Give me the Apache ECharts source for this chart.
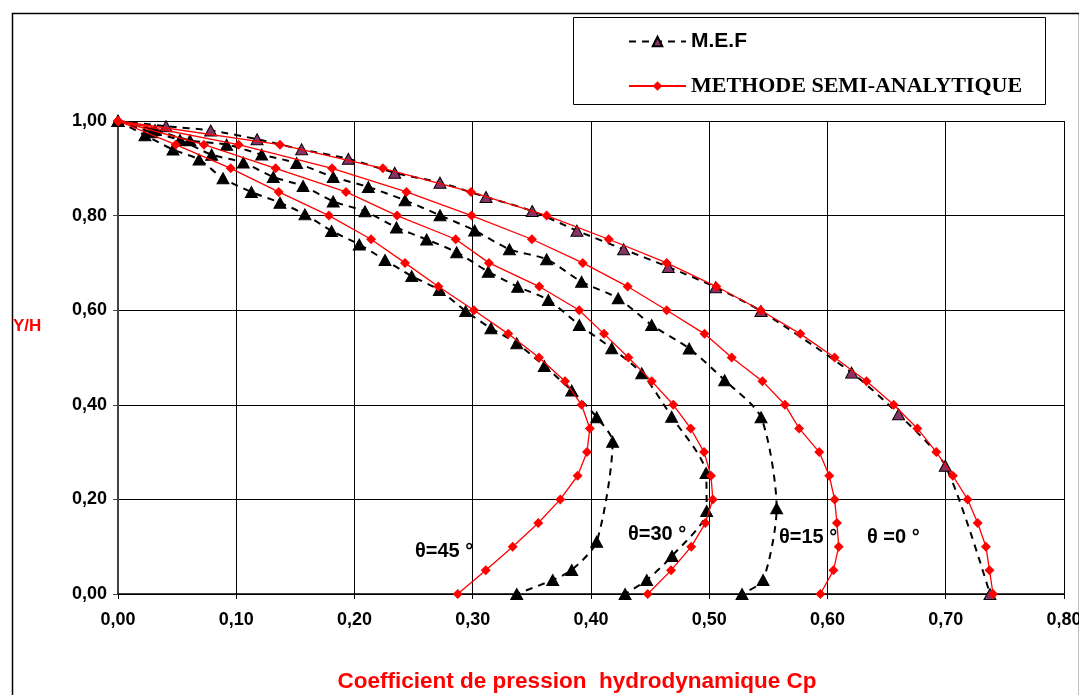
<!DOCTYPE html>
<html>
<head>
<meta charset="utf-8">
<script src="https://cdn.jsdelivr.net/npm/echarts@6.0.0/dist/echarts.min.js"></script>
<style>
html,body{margin:0;padding:0;background:#fff;}
#chart{width:1079px;height:695px;}
</style>
</head>
<body>
<div id="chart"></div>
<script>
// ---- Data ----
// Semi-analytic method: Y/H levels and Cp for each angle
const yLevels = [1.00,0.95,0.90,0.85,0.80,0.75,0.70,0.65,0.60,0.55,0.50,0.45,0.40,0.35,0.30,0.25,0.20,0.15,0.10,0.05,0.00];
const saTheta0  = [0,0.137,0.224,0.2985,0.3625,0.415,0.464,0.506,0.5435,0.577,0.606,0.633,0.656,0.676,0.692,0.706,0.7185,0.727,0.734,0.737,0.740];
const saTheta15 = [0,0.102,0.181,0.244,0.299,0.350,0.393,0.431,0.464,0.496,0.519,0.545,0.564,0.576,0.593,0.6015,0.606,0.608,0.6095,0.605,0.594];
const saTheta30 = [0,0.0727,0.1333,0.1928,0.236,0.2856,0.3137,0.3563,0.390,0.411,0.4316,0.4513,0.4696,0.4843,0.4956,0.5015,0.503,0.4967,0.4848,0.4677,0.448];
const saTheta45 = [0,0.0488,0.0953,0.1359,0.1784,0.214,0.2427,0.2709,0.301,0.330,0.356,0.378,0.392,0.399,0.3966,0.3887,0.374,0.3554,0.3338,0.311,0.2873];

// M.E.F (finite elements): Y/H and Cp pairs for each angle
const mefY0   = [1.000,0.989,0.980,0.9615,0.940,0.920,0.8905,0.8696,0.8393,0.8097,0.7681,0.7287,0.6913,0.6484,0.5983,0.468,0.380,0.2713,0.000];
const mefCp0  = [0,0.0406,0.0784,0.1176,0.1553,0.1948,0.2340,0.2723,0.3112,0.3503,0.3881,0.4276,0.4654,0.5054,0.5437,0.6204,0.6601,0.6996,0.7374];
const mefY15  = [1.000,0.981,0.959,0.950,0.929,0.911,0.8816,0.8605,0.8323,0.8006,0.7685,0.7288,0.7076,0.660,0.625,0.5687,0.519,0.452,0.3735,0.181,0.0296,0.000];
const mefCp15 = [0,0.0313,0.0609,0.0919,0.1215,0.1511,0.182,0.2117,0.2427,0.2723,0.3016,0.331,0.3625,0.392,0.423,0.4513,0.483,0.513,0.5438,0.557,0.5455,0.5277];
const mefY30  = [1.000,0.976,0.9598,0.9288,0.912,0.8816,0.8626,0.830,0.809,0.775,0.7495,0.7224,0.6814,0.6497,0.6216,0.5687,0.5195,0.4666,0.3748,0.2558,0.1755,0.0803,0.0296,0.000];
const mefCp30 = [0,0.0285,0.0524,0.0792,0.106,0.1313,0.1565,0.182,0.2089,0.2355,0.261,0.2864,0.3131,0.338,0.3639,0.3901,0.4175,0.4429,0.4682,0.4973,0.4978,0.4685,0.4471,0.4288];
const mefY45  = [1.000,0.970,0.9395,0.9185,0.879,0.8499,0.8273,0.8026,0.7675,0.739,0.706,0.672,0.6427,0.598,0.5617,0.530,0.482,0.430,0.3736,0.322,0.1106,0.0507,0.0296,0.000];
const mefCp45 = [0,0.0228,0.0465,0.0685,0.0888,0.1128,0.137,0.1581,0.1806,0.204,0.2258,0.2484,0.2717,0.294,0.3154,0.3372,0.3605,0.3837,0.4048,0.4183,0.4048,0.3837,0.3676,0.3372];

const seriesNames = ['M.E.F', 'METHODE SEMI-ANALYTIQUE'];
const angleLabels = ['θ=45 °', 'θ=30 °', 'θ=15 °', 'θ =0 °'];
const xAxisTitle = 'Coefficient de pression  hydrodynamique Cp';
const yAxisTitle = 'Y/H';

// ---- Build ----
const pairs = (xs, ys) => xs.map((x, i) => [x, ys[i]]);
const saPairs = arr => yLevels.map((y, i) => [arr[i], y]);
const fmt = v => v.toFixed(2).replace('.', ',');

function mefSeries(data, fill) {
  return {
    name: seriesNames[0], type: 'line', data: data,
    smooth: 0.25,
    symbol: 'triangle', symbolSize: [12, 11],
    lineStyle: { color: '#000', width: 2, type: [7, 6] },
    itemStyle: { color: fill, borderColor: '#000', borderWidth: 1 },
    z: 2
  };
}
function saSeries(data) {
  return {
    name: seriesNames[1], type: 'line', data: data,
    symbol: 'diamond', symbolSize: 10,
    lineStyle: { color: '#ff0000', width: 1.3 },
    itemStyle: { color: '#ff0000' },
    z: 3
  };
}

const chart = echarts.init(document.getElementById('chart'), null, { renderer: 'canvas' });
const option = {
  animation: false,
  backgroundColor: '#fff',
  textStyle: { fontFamily: 'Liberation Sans, Arial, sans-serif' },
  grid: { left: 118, right: 15, top: 121, bottom: 101, containLabel: false, outerBoundsMode: 'none' },
  xAxis: {
    type: 'value', min: 0, max: 0.8, interval: 0.1,
    name: xAxisTitle, nameLocation: 'middle', nameGap: 76,
    nameTextStyle: { color: '#ff0000', fontWeight: 'bold', fontSize: 22.5, fontFamily: 'Liberation Sans', padding: [0, 28, 0, 0] },
    axisLine: { show: true, lineStyle: { color: '#000', width: 1.5 } },
    axisTick: { show: true, length: 5, lineStyle: { color: '#000' } },
    axisLabel: { formatter: fmt, color: '#000', fontWeight: 'bold', fontSize: 18, fontFamily: 'Liberation Sans', margin: 17, showMaxLabel: true },
    splitLine: { show: true, lineStyle: { color: '#000', width: 1 } }
  },
  yAxis: {
    type: 'value', min: 0, max: 1, interval: 0.2,
    axisLine: { show: true, lineStyle: { color: '#444', width: 2 } },
    axisTick: { show: true, length: 5, lineStyle: { color: '#444' } },
    axisLabel: { formatter: fmt, color: '#000', fontWeight: 'bold', fontSize: 18, fontFamily: 'Liberation Sans', margin: 11 },
    splitLine: { show: true, lineStyle: { color: '#000', width: 1 } }
  },
  legend: {
    orient: 'vertical', left: 628, top: 31, padding: 0,
    itemWidth: 57, itemHeight: 12, itemGap: 23,
    selectedMode: false,
    data: seriesNames,
    formatter: n => n === 'M.E.F' ? '{a|' + n + '}' : '{b|' + n + '}',
    textStyle: {
      rich: {
        a: { fontFamily: 'Liberation Sans', fontWeight: 'bold', fontSize: 21, color: '#000', lineHeight: 24 },
        b: { fontFamily: 'Liberation Serif', fontWeight: 'bold', fontSize: 22, color: '#000', lineHeight: 24 }
      }
    }
  },
  graphic: [
    { type: 'rect', left: 10, top: 11, shape: { width: 1067, height: 700 }, style: { fill: null, stroke: '#000', lineWidth: 1.5 }, silent: true, z: -10 },
    { type: 'rect', left: 573, top: 17, shape: { width: 472, height: 87 }, style: { fill: '#fff', stroke: '#000', lineWidth: 1 }, silent: true, z: -5 },
    { type: 'text', left: 13, top: 318, style: { text: yAxisTitle, font: 'bold 17px "Liberation Sans"', fill: '#ff0000' }, z: 10 },
    { type: 'text', left: 415, top: 541, style: { text: angleLabels[0], font: 'bold 20px "Liberation Sans"', fill: '#000' }, z: 10 },
    { type: 'text', left: 628, top: 524, style: { text: angleLabels[1], font: 'bold 20px "Liberation Sans"', fill: '#000' }, z: 10 },
    { type: 'text', left: 779, top: 527, style: { text: angleLabels[2], font: 'bold 20px "Liberation Sans"', fill: '#000' }, z: 10 },
    { type: 'text', left: 867, top: 527, style: { text: angleLabels[3], font: 'bold 20px "Liberation Sans"', fill: '#000' }, z: 10 }
  ],
  series: [
    mefSeries(pairs(mefCp0, mefY0), '#883366'),
    mefSeries(pairs(mefCp15, mefY15), '#000'),
    mefSeries(pairs(mefCp30, mefY30), '#000'),
    mefSeries(pairs(mefCp45, mefY45), '#000'),
    saSeries(saPairs(saTheta0)),
    saSeries(saPairs(saTheta15)),
    saSeries(saPairs(saTheta30)),
    saSeries(saPairs(saTheta45))
  ]
};
chart.setOption(option);
</script>
</body>
</html>
